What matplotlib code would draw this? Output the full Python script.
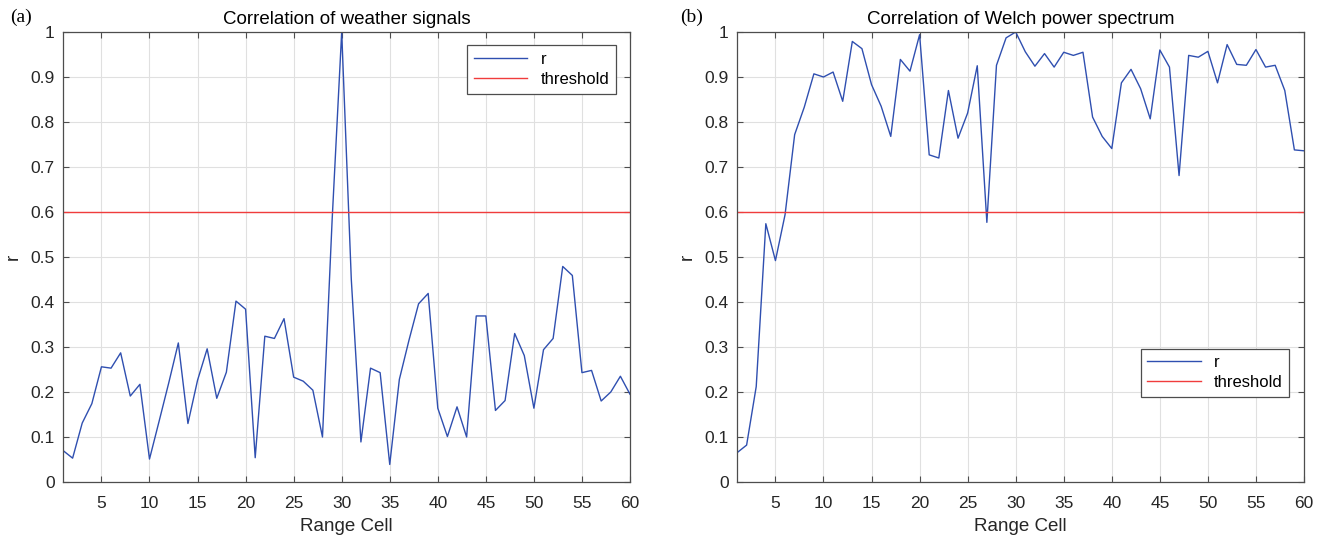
import matplotlib.pyplot as plt

# range cells 1..60
cells = list(range(1, 61))

# correlation of weather signals (a)
r_weather = [0.070, 0.053, 0.131, 0.174, 0.256, 0.253, 0.287, 0.191, 0.217, 0.051,
             0.135, 0.220, 0.309, 0.130, 0.226, 0.296, 0.186, 0.244, 0.402, 0.384,
             0.054, 0.324, 0.319, 0.363, 0.233, 0.224, 0.204, 0.100, 0.580, 1.000,
             0.450, 0.089, 0.253, 0.243, 0.039, 0.228, 0.315, 0.396, 0.419, 0.164,
             0.101, 0.167, 0.100, 0.369, 0.369, 0.159, 0.181, 0.330, 0.281, 0.164,
             0.294, 0.319, 0.479, 0.459, 0.243, 0.248, 0.180, 0.200, 0.235, 0.195]

# correlation of Welch power spectrum (b)
r_welch = [0.065, 0.082, 0.212, 0.574, 0.492, 0.594, 0.772, 0.833, 0.907, 0.900,
           0.911, 0.846, 0.979, 0.963, 0.883, 0.835, 0.768, 0.939, 0.913, 0.994,
           0.727, 0.720, 0.870, 0.764, 0.820, 0.925, 0.577, 0.926, 0.987, 1.000,
           0.956, 0.924, 0.952, 0.922, 0.955, 0.948, 0.955, 0.811, 0.768, 0.741,
           0.887, 0.917, 0.874, 0.807, 0.960, 0.922, 0.681, 0.948, 0.944, 0.957,
           0.887, 0.972, 0.928, 0.926, 0.961, 0.922, 0.926, 0.870, 0.738, 0.736]

threshold = 0.6
titles = ["Correlation of weather signals", "Correlation of Welch power spectrum"]
panel_tags = ["(a)", "(b)"]

plt.rcParams['font.family'] = ['Liberation Sans', 'DejaVu Sans']

fig = plt.figure(figsize=(13.21, 5.38), dpi=100)
ax_a = fig.add_axes([63 / 1321, 1 - 482 / 538, 567 / 1321, 450 / 538])
ax_b = fig.add_axes([737 / 1321, 1 - 482 / 538, 567 / 1321, 450 / 538])

blue = '#2f4fb0'
red = '#f03c3c'
edge = '#4d4d4d'

for ax, data, title in [(ax_a, r_weather, titles[0]), (ax_b, r_welch, titles[1])]:
    ax.plot(cells, data, color=blue, lw=1.0, label='r')
    ax.axhline(threshold, color=red, lw=1.0, label='threshold')
    ax.set_xlim(1, 60)
    ax.set_ylim(0, 1)
    ax.set_xticks(range(5, 61, 5))
    yt = [i / 10 for i in range(11)]
    ax.set_yticks(yt)
    ax.set_yticklabels(['0'] + ['%.1f' % v for v in yt[1:-1]] + ['1'])
    ax.grid(True, color='#e0e0e0', lw=0.8)
    ax.set_axisbelow(True)
    ax.tick_params(direction='in', top=True, right=True, length=4,
                   color=edge, labelsize=12.5, labelcolor='#262626', pad=6)
    ax.tick_params(axis='x', pad=10)
    for s in ax.spines.values():
        s.set_color(edge)
        s.set_linewidth(0.9)
    ax.set_title(title, fontsize=13.5, pad=6)
    ax.set_xlabel('Range Cell', fontsize=13.5, color='#262626', labelpad=5)
    ax.set_ylabel('r', fontsize=13.5, color='#262626', labelpad=6)

leg_kw = dict(fontsize=12, fancybox=False, edgecolor=edge, framealpha=1,
              handlelength=3.2, borderaxespad=0, labelspacing=0.3)
leg = ax_a.legend(loc='upper right', bbox_to_anchor=(0.975, 0.97), **leg_kw)
leg.get_frame().set_linewidth(0.9)
leg = ax_b.legend(loc='lower right', bbox_to_anchor=(0.974, 0.189), **leg_kw)
leg.get_frame().set_linewidth(0.9)

fig.text(10 / 1321, 1 - 17 / 538, panel_tags[0], fontsize=14,
         family='Liberation Serif', va='center')
fig.text(680 / 1321, 1 - 17 / 538, panel_tags[1], fontsize=14,
         family='Liberation Serif', va='center')

fig.savefig('out.png', dpi=100)
